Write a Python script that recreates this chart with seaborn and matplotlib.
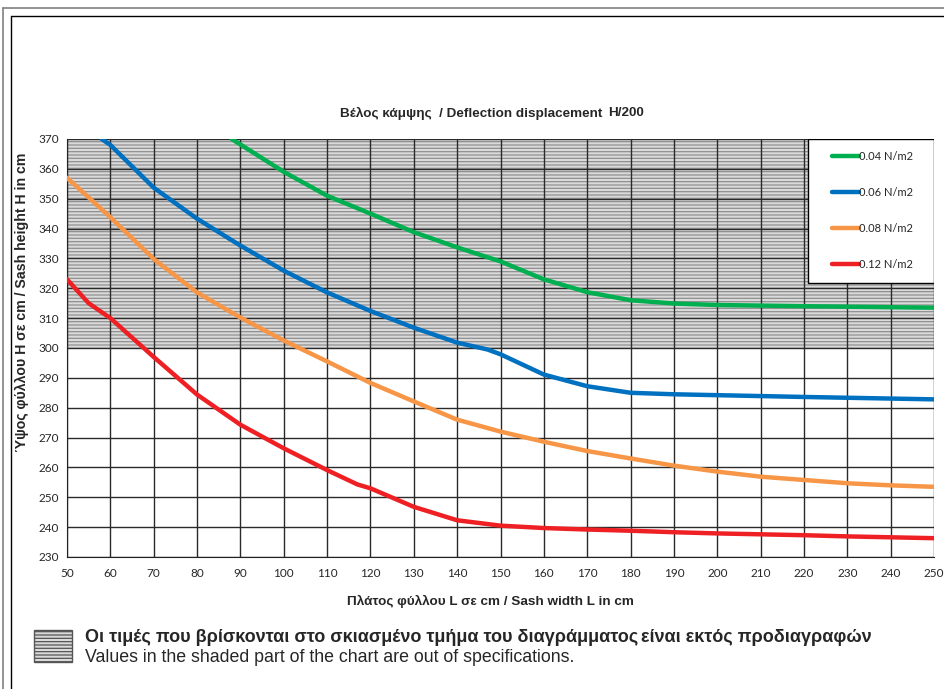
import numpy as np
import pandas as pd
import matplotlib
matplotlib.use("Agg")
import matplotlib.pyplot as plt
import seaborn as sns
from matplotlib.patches import Rectangle
from matplotlib.lines import Line2D

# data
series_names = ["0.04 N/m2", "0.06 N/m2", "0.08 N/m2", "0.12 N/m2"]
series_colors = ["#00b050", "#0070c0", "#f79646", "#ee2024"]

x_004 = [88, 100, 110, 120, 130, 140, 150, 160, 170, 180, 190, 200, 220, 250]
y_004 = [370, 359, 351, 345, 338.8, 333.7, 329, 323, 318.7, 316, 314.9, 314.4, 314, 313.5]

x_006 = [58, 60, 70, 80, 90, 100, 110, 120, 130, 140, 147, 150, 160, 170, 180, 190, 200, 220, 250]
y_006 = [370, 368, 353.7, 343.3, 334.3, 325.9, 318.6, 312.4, 306.8, 301.8, 299.5, 297.9, 291.1, 287.2, 285, 284.5, 284.2, 283.6, 282.8]

x_008 = [50, 60, 70, 80, 90, 100, 110, 120, 130, 140, 150, 160, 170, 180, 190, 200, 210, 220, 230, 240, 250]
y_008 = [357, 343.8, 329.8, 318.6, 310.2, 302.5, 295.5, 288.3, 282.1, 276, 272, 268.6, 265.5, 263, 260.6, 258.6, 256.9, 255.8, 254.7, 254, 253.5]

x_012 = [50, 55, 60, 70, 80, 90, 100, 110, 117, 120, 130, 140, 150, 160, 170, 180, 190, 200, 210, 220, 230, 240, 250]
y_012 = [323, 315, 310, 297, 284.4, 274.3, 266.4, 259.1, 254.3, 253, 246.8, 242.3, 240.5, 239.7, 239.2, 238.8, 238.3, 237.9, 237.6, 237.3, 236.9, 236.6, 236.3]

x_ticks = list(range(50, 251, 10))
y_ticks = list(range(230, 371, 10))
spec_limit = 300

title_gr = "Βέλος κάμψης  / Deflection displacement"
title_extra = "H/200"
xlabel = "Πλάτος φύλλου L σε cm / Sash width L in cm"
ylabel = "Ύψος φύλλου H σε cm / Sash height H in cm"
note_gr_a = "Οι τιμές που βρίσκονται στο σκιασμένο τμήμα του διαγράμματος"
note_gr_b = "είναι εκτός προδιαγραφών"
note_en = "Values in the shaded part of the chart are out of specifications."

frames = []
for name, xs, ys in [(series_names[0], x_004, y_004), (series_names[1], x_006, y_006),
                     (series_names[2], x_008, y_008), (series_names[3], x_012, y_012)]:
    frames.append(pd.DataFrame({"L": xs, "H": ys, "load": name}))
df = pd.concat(frames, ignore_index=True)

sns.set_style("white")
plt.rcParams["font.family"] = ["Liberation Sans", "DejaVu Sans"]
plt.rcParams["hatch.linewidth"] = 0.9

W, H = 944, 689
fig = plt.figure(figsize=(W / 100, H / 100), dpi=100)


def fx(px):
    return px / W


def fy(py):
    return 1 - py / H


ax_l, ax_r, ax_t, ax_b = 67, 934, 139, 557
ax = fig.add_axes([fx(ax_l), fy(ax_b), fx(ax_r) - fx(ax_l), fy(ax_t) - fy(ax_b)])

# shaded out-of-spec zone
ax.axhspan(spec_limit, max(y_ticks), facecolor="#dadada", edgecolor="#8f8f8f",
           hatch="-----", lw=0, zorder=0)

sns.lineplot(data=df, x="L", y="H", hue="load", palette=series_colors,
             hue_order=series_names, linewidth=3.2, sort=False, ax=ax, zorder=3)

ax.set_xlim(min(x_ticks), max(x_ticks))
ax.set_ylim(min(y_ticks), max(y_ticks))
ax.set_xticks(x_ticks)
ax.set_yticks(y_ticks)
ax.grid(True, color="#2a2a2a", lw=1.0)
for ln in ax.get_xgridlines() + ax.get_ygridlines():
    ln.set_zorder(1)
for s in ax.spines.values():
    s.set_visible(False)
ax.spines["left"].set_visible(True)
ax.spines["bottom"].set_visible(True)
ax.spines["left"].set_color("#222222")
ax.spines["bottom"].set_color("#222222")
ax.tick_params(axis="both", length=2, width=0.8, color="#222222", labelsize=8.5, pad=4)
ax.tick_params(axis="x", pad=6)
for lab in ax.get_xticklabels() + ax.get_yticklabels():
    lab.set_family(["Lato", "DejaVu Sans"])
ax.set_xlabel("")
ax.set_ylabel("")


def ax_x(px):
    return (px - ax_l) / (ax_r - ax_l)


def ax_y(py):
    return (ax_b - py) / (ax_b - ax_t)


# legend box with its entries
ax.add_patch(Rectangle((ax_x(808), ax_y(283)), ax_x(934) - ax_x(808), ax_y(139) - ax_y(283),
                       transform=ax.transAxes, facecolor="white", edgecolor="black",
                       lw=1.0, zorder=4))
leg = ax.legend(loc="upper left", bbox_to_anchor=(ax_x(832), ax_y(151)), borderaxespad=0,
                frameon=False, fontsize=8, handlelength=2.4, handletextpad=0.05,
                labelspacing=2.25, borderpad=0)
leg.set_zorder(5)
for t in leg.get_texts():
    t.set_family(["Lato", "DejaVu Sans"])

# titles and labels
fig.text(fx(340), fy(113), title_gr, fontsize=9.7, fontweight="bold", ha="left", va="center")
fig.text(fx(608), fy(113), title_extra, fontsize=9.7, fontweight="bold", ha="left", va="center")
fig.text(fx(490), fy(601), xlabel, fontsize=9.7, fontweight="bold", ha="center", va="center")
fig.text(fx(22), fy(302), ylabel, fontsize=10.2, fontweight="bold", ha="center", va="center",
         rotation=90)

# note below the chart
fig.patches.append(Rectangle((fx(34), fy(662)), fx(72) - fx(34), fy(630) - fy(662),
                             transform=fig.transFigure, facecolor="#dadada",
                             edgecolor="#555555", hatch="-----", lw=1.0))
fig.text(fx(85), fy(638), note_gr_a, fontsize=13, fontweight="bold", ha="left", va="center")
fig.text(fx(872), fy(638), note_gr_b, fontsize=13, fontweight="bold", ha="right", va="center")
fig.text(fx(85), fy(658), note_en, fontsize=12.8, ha="left", va="center")

# outer frames
fig.lines.append(Line2D([fx(3), fx(W)], [fy(8), fy(8)], transform=fig.transFigure, color="#808080", lw=1.2))
fig.lines.append(Line2D([fx(3), fx(3)], [fy(8), fy(H)], transform=fig.transFigure, color="#808080", lw=1.2))
fig.lines.append(Line2D([fx(11), fx(W)], [fy(16), fy(16)], transform=fig.transFigure, color="black", lw=1.0))
fig.lines.append(Line2D([fx(11), fx(11)], [fy(16), fy(H)], transform=fig.transFigure, color="black", lw=1.0))

fig.savefig("out.png", dpi=100)
